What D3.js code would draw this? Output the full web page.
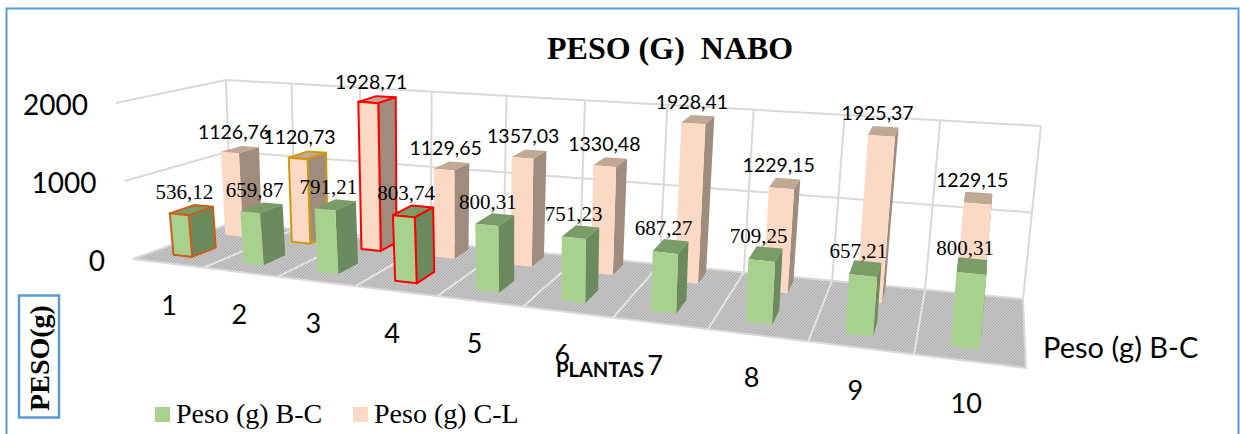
<!DOCTYPE html>
<html>
<head>
<meta charset="utf-8">
<script src="https://cdn.jsdelivr.net/npm/d3@7/dist/d3.min.js"></script>
<style>
  html, body { margin: 0; padding: 0; background: #fff; overflow: hidden; }
  text { white-space: pre; }
  .cal { font-family: Lato, "Open Sans", sans-serif; fill: #000; }
  .tim { font-family: "Liberation Serif", serif; fill: #000; }
</style>
</head>
<body>
<svg class="chart" width="1240" height="434"></svg>
<script>
var categories = ["1", "2", "3", "4", "5", "6", "7", "8", "9", "10"];
var pesoBC = [536.12, 659.87, 791.21, 803.74, 800.31, 751.23, 687.27, 709.25, 657.21, 800.31];
var pesoCL = [1126.76, 1120.73, 1928.71, 1129.65, 1357.03, 1330.48, 1928.41, 1229.15, 1925.37, 1229.15];
var yTicks = [0, 1000, 2000];
var seriesNames = ["Peso (g) B-C", "Peso (g) C-L"];

// screen corners of the 3d box, floor and top
var floorFL = [133, 259], floorFR = [1026, 368], floorBL = [231, 223], floorBR = [1023, 299];
var topFL = [116, 103], topFR = [1044, 176], topBL = [226, 80], topBR = [1041, 126];

var perspectiveFront = 1.29, perspectiveBack = 1.27;
var barStart = 0.32, barEnd = 0.59;
var depthBC = [0.19, 0.44], depthCL = [0.73, 0.93];

// hand nudges, the original labels do not sit on the cell centres
var tickNudge = [1, -1, -3, -4, -5, -5, -5, -6, -5, -3];
var labelNudgeCL = [0, -2, 0, 0, 0, 0, 0, 0, 0, 0];

var green = {front: "#a9d18e", side: "#6b8a5d", top: "#799c68"};
var pink = {front: "#fcd9c4", side: "#a08c7c", top: "#c1a895"};
var outlineBC = {0: "#c8601a", 3: "#ff0000"};
var outlineCL = {1: "#cc9a10", 2: "#ff0000"};

var svg = d3.select(".chart");
var uScale = d3.scaleLinear().domain([0, categories.length]).range([0, 1]);
var wScale = d3.scaleLinear().domain([0, 2000]).range([0, 1]);
var qScale = d3.scaleLinear().domain([0, 1]).range([perspectiveFront, perspectiveBack]);

function warp(u, q) { return u / (u + q * (1 - u)); }
function lerp(a, b, t) { return [a[0] + (b[0] - a[0]) * t, a[1] + (b[1] - a[1]) * t]; }

// category position, depth 0..1 (front to back), value -> screen point
function project(c, v, val) {
  var u = warp(uScale(c), qScale(v));
  var bottom = lerp(lerp(floorFL, floorFR, u), lerp(floorBL, floorBR, u), v);
  var top = lerp(lerp(topFL, topFR, u), lerp(topBL, topBR, u), v);
  return lerp(bottom, top, wScale(val));
}
function segment(a, b) { return d3.line()([a, b]); }
function poly(pts) { return d3.line()(pts) + "Z"; }

var defs = svg.append("defs");
var hatch = defs.append("pattern").attr("id", "floorHatch").attr("patternUnits", "userSpaceOnUse")
    .attr("width", 3).attr("height", 3);
hatch.append("rect").attr("width", 3).attr("height", 3).attr("fill", "#c6c6c6");
hatch.append("path").attr("d", "M0,3L3,0").attr("stroke", "#adadad").attr("stroke-width", 1);

// frame
svg.append("rect").attr("x", 6.5).attr("y", 8.5).attr("width", 1232).attr("height", 440)
    .attr("fill", "#fff").attr("stroke", "#5b9bd5").attr("stroke-width", 2);

var grid = svg.append("g").attr("fill", "none").attr("stroke", "#d9d9d9").attr("stroke-width", 2);

// floor
svg.append("path")
    .attr("d", poly([project(0, 0, 0), project(10, 0, 0), project(10, 1, 0), project(0, 1, 0)]))
    .attr("fill", "url(#floorHatch)").attr("stroke", "#d9d9d9").attr("stroke-width", 2);
d3.range(1, 10).forEach(function(c) {
  svg.append("path").attr("d", segment(project(c, 0, 0), project(c, 1, 0)))
      .attr("stroke", "#e4e4e4").attr("stroke-width", 2);
});

// walls
d3.range(0, 11).forEach(function(c) {
  grid.append("path").attr("d", segment(project(c, 1, 0), project(c, 1, 2000)));
});
yTicks.slice(1).forEach(function(t) {
  grid.append("path").attr("d", d3.line()([project(0, 0, t), project(0, 1, t), project(10, 1, t)]));
});

function drawBars(values, depth, colors, outlines) {
  var g = svg.append("g");
  values.forEach(function(val, i) {
    var a = i + barStart, b = i + barEnd, v0 = depth[0], v1 = depth[1];
    var faces = [
      {f: colors.top, p: [project(a, v0, val), project(b, v0, val), project(b, v1, val), project(a, v1, val)]},
      {f: colors.side, p: [project(b, v0, 0), project(b, v1, 0), project(b, v1, val), project(b, v0, val)]},
      {f: colors.front, p: [project(a, v0, 0), project(b, v0, 0), project(b, v0, val), project(a, v0, val)]}
    ];
    g.selectAll(null).data(faces).enter().append("path")
        .attr("d", function(d) { return poly(d.p); })
        .attr("fill", function(d) { return d.f; })
        .attr("stroke", outlines[i] || "none")
        .attr("stroke-width", 2)
        .attr("stroke-linejoin", "round");
  });
}
drawBars(pesoCL, depthCL, pink, outlineCL);
drawBars(pesoBC, depthBC, green, outlineBC);

function fmt(v) { return v.toFixed(2).replace(".", ","); }

// value labels
pesoCL.forEach(function(val, i) {
  var p = project(i + (barStart + barEnd) / 2, (depthCL[0] + depthCL[1]) / 2, val);
  svg.append("text").attr("class", "cal").attr("font-size", 19.5).attr("text-anchor", "middle")
      .attr("x", p[0] - 6 + labelNudgeCL[i]).attr("y", p[1] - 11).text(fmt(val));
});
pesoBC.forEach(function(val, i) {
  var p = project(i + (barStart + barEnd) / 2, (depthBC[0] + depthBC[1]) / 2, val);
  svg.append("text").attr("class", "tim").attr("font-size", 21).attr("text-anchor", "middle")
      .attr("x", p[0] - 7).attr("y", p[1] - 11).text(fmt(val));
});

// y axis ticks
yTicks.forEach(function(t) {
  var p = project(0, 0, t);
  svg.append("text").attr("class", "cal").attr("font-size", 28).attr("text-anchor", "end")
      .attr("x", p[0] - 28).attr("y", p[1] + 12).text(t);
});

// category labels
categories.forEach(function(c, i) {
  var p = project(i + 0.5, 0, 0);
  svg.append("text").attr("class", "cal").attr("font-size", 27).attr("text-anchor", "middle")
      .attr("x", p[0] + tickNudge[i]).attr("y", p[1] + 52).text(c);
});

// series axis label and titles
svg.append("text").attr("class", "cal").attr("font-size", 29).attr("x", 1043).attr("y", 358).text(seriesNames[0]);
svg.append("text").attr("class", "tim").attr("font-size", 32).attr("font-weight", "bold")
    .attr("x", 547).attr("y", 59).text("PESO (G)  NABO");
svg.append("text").attr("class", "cal").attr("font-size", 20).attr("font-weight", "bold")
    .attr("x", 556).attr("y", 377).attr("textLength", 88).attr("lengthAdjust", "spacingAndGlyphs").text("PLANTAS");

// y title box
svg.append("rect").attr("x", 19).attr("y", 295.5).attr("width", 40).attr("height", 122)
    .attr("fill", "#fff").attr("stroke", "#5b9bd5").attr("stroke-width", 2.5);
svg.append("text").attr("class", "tim").attr("font-size", 28).attr("font-weight", "bold")
    .attr("text-anchor", "middle").attr("transform", "translate(49,358) rotate(-90)").text("PESO(g)");

// legend
var legendX = d3.scaleOrdinal().domain(seriesNames).range([155, 353]);
var legendFill = d3.scaleOrdinal().domain(seriesNames).range([green.front, pink.front]);
seriesNames.forEach(function(s) {
  svg.append("rect").attr("x", legendX(s)).attr("y", 407).attr("width", 15).attr("height", 15).attr("fill", legendFill(s));
  svg.append("text").attr("class", "tim").attr("font-size", 28).attr("x", legendX(s) + 21).attr("y", 423).text(s);
});
</script>
</body>
</html>
